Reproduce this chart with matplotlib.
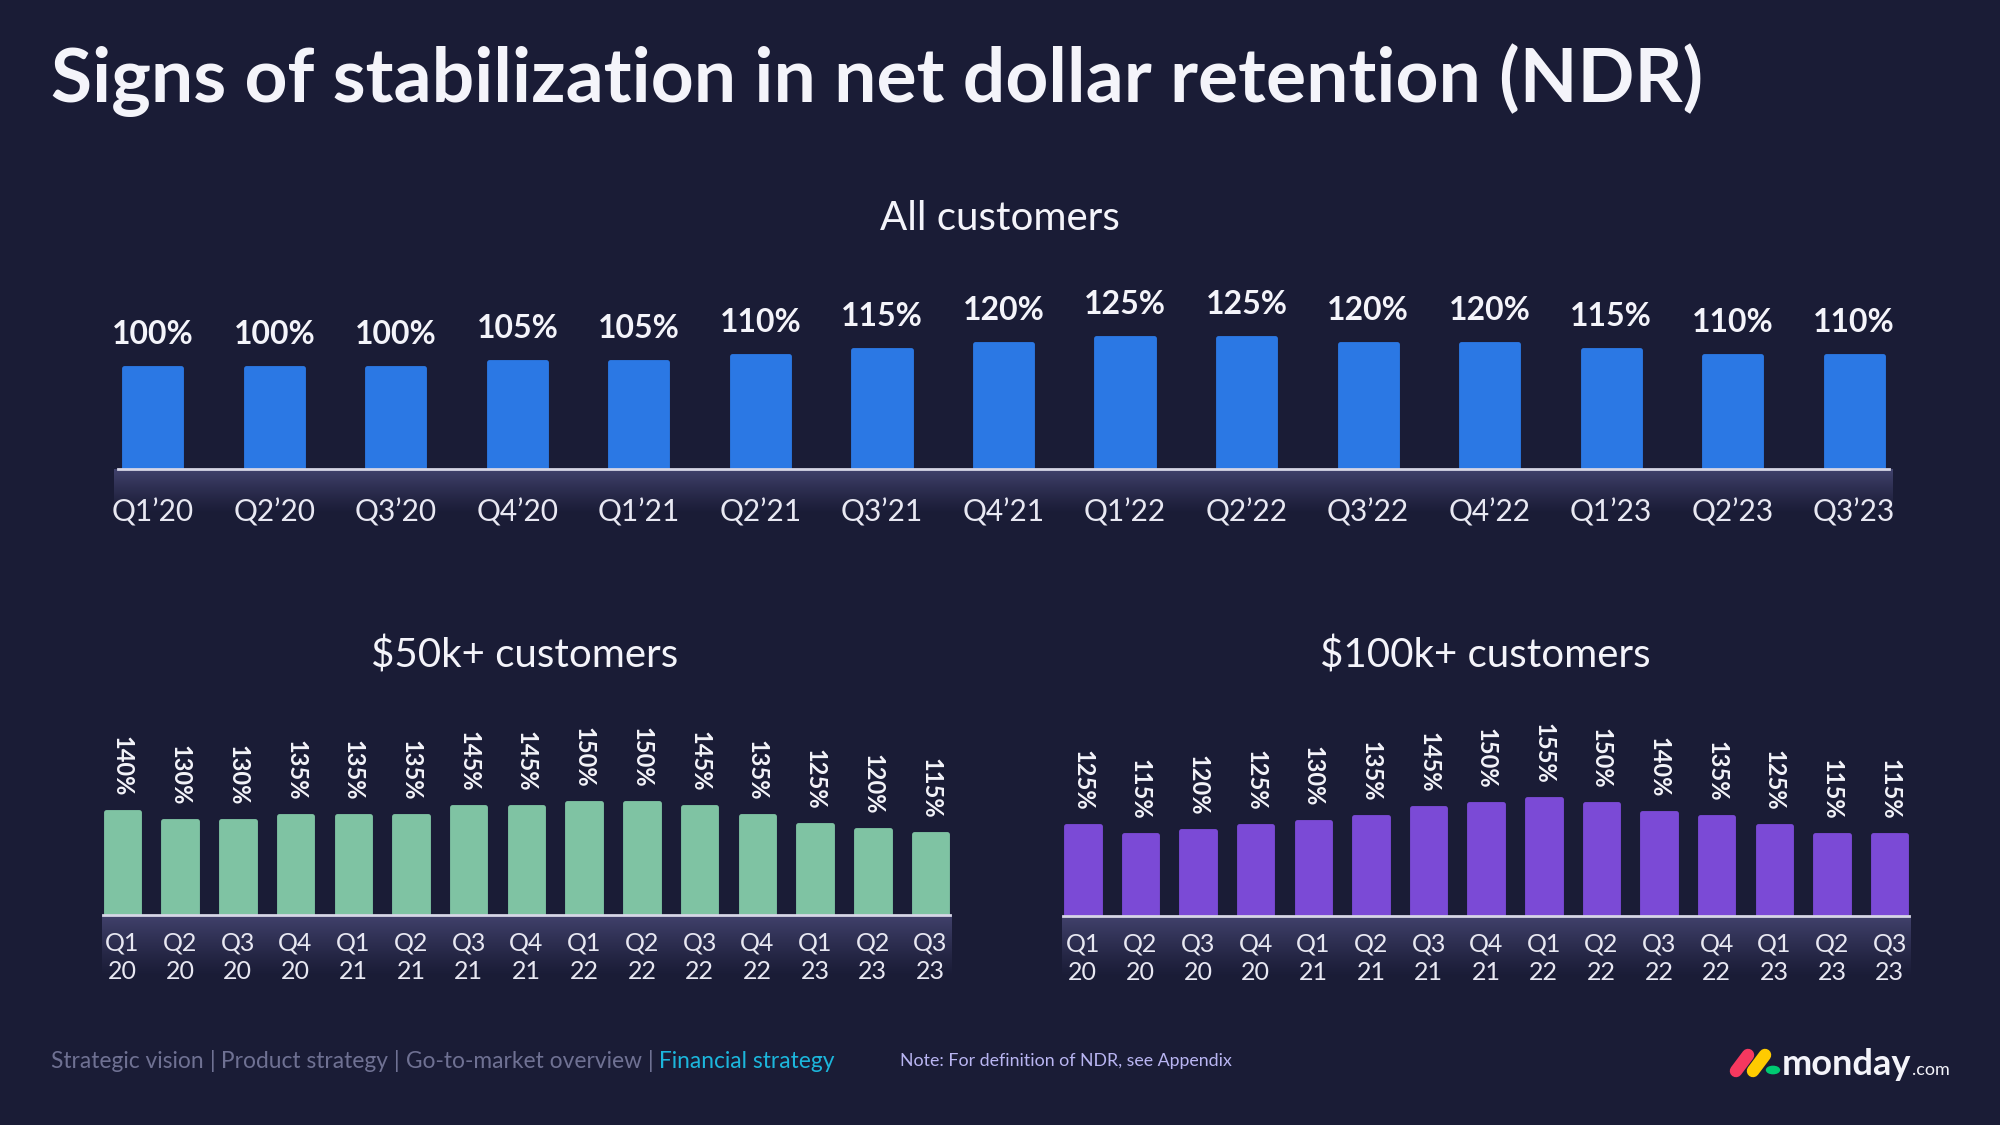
import matplotlib
matplotlib.use("Agg")
import matplotlib.pyplot as plt
import numpy as np
from matplotlib.lines import Line2D
from matplotlib.patches import Circle

plt.rcParams['font.family'] = ['Lato', 'DejaVu Sans']

# ---------------- data ----------------
quarters_all = ["Q1’20", "Q2’20", "Q3’20", "Q4’20", "Q1’21", "Q2’21", "Q3’21", "Q4’21",
                "Q1’22", "Q2’22", "Q3’22", "Q4’22", "Q1’23", "Q2’23", "Q3’23"]
ndr_all = [100, 100, 100, 105, 105, 110, 115, 120, 125, 125, 120, 120, 115, 110, 110]

quarters_split = ["Q1\n20", "Q2\n20", "Q3\n20", "Q4\n20", "Q1\n21", "Q2\n21", "Q3\n21", "Q4\n21",
                  "Q1\n22", "Q2\n22", "Q3\n22", "Q4\n22", "Q1\n23", "Q2\n23", "Q3\n23"]
ndr_50k = [140, 130, 130, 135, 135, 135, 145, 145, 150, 150, 145, 135, 125, 120, 115]
ndr_100k = [125, 115, 120, 125, 130, 135, 145, 150, 155, 150, 140, 135, 125, 115, 115]

title = "Signs of stabilization in net dollar retention (NDR)"
sub_all = "All customers"
sub_50k = r"\$50k+ customers"
sub_100k = r"\$100k+ customers"

# ---------------- style ----------------
BG = "#1a1c36"
BLUE = "#2b78e4"
GREEN = "#7fc3a3"
PURPLE = "#7b4ad6"
WHITE = "#f4f4fa"
TICK = "#e8e8f2"
BAND = (0.27, 0.27, 0.44)
W, H = 2000, 1125

fig = plt.figure(figsize=(20, 11.25), dpi=100, facecolor=BG)
renderer = fig.canvas.get_renderer()


def rect(l, r, top, bottom):
    return [l / W, 1 - bottom / H, (r - l) / W, (bottom - top) / H]


def band(l, r, top, height):
    ax = fig.add_axes(rect(l, r, top, top + height))
    grad = np.zeros((100, 2, 4))
    grad[..., 0], grad[..., 1], grad[..., 2] = BAND
    a = np.linspace(0.95, 0.0, 100) ** 1.2
    grad[..., 3] = a[:, None]
    ax.imshow(grad, aspect='auto', extent=[0, 1, 0, 1], origin='upper', zorder=0)
    ax.set_axis_off()
    ax.set_zorder(0)


def bar_chart(axrect, values, labels, color, base, scale_px, height_px, width,
              vlab_size, vlab_rot, vlab_off, tick_size, tick_pad, band_h, band_ext,
              linespacing=1.0):
    l, r, top, bottom = axrect
    band(l + band_ext, r - band_ext, bottom, band_h)
    ax = fig.add_axes(rect(l, r, bottom - height_px, bottom))
    ax.set_zorder(2)
    ax.patch.set_alpha(0)
    x = np.arange(len(values))
    ax.bar(x, np.array(values) - base, bottom=base, width=width, color=color,
           edgecolor=color, linewidth=3.5, joinstyle='round')
    ax.set_xlim(-0.5, len(values) - 0.5)
    ax.set_ylim(base, base + height_px / scale_px)
    ax.axhline(base, xmin=(0.5 - width / 2 - 0.05) / len(values),
               xmax=1 - (0.5 - width / 2 - 0.05) / len(values),
               color="#d6d6e6", linewidth=2.0, zorder=5, clip_on=False)
    for s in ax.spines.values():
        s.set_visible(False)
    ax.set_yticks([])
    ax.set_xticks(x)
    ax.set_xticklabels(labels, fontsize=tick_size, color=TICK, linespacing=linespacing,
                       fontweight='normal')
    ax.tick_params(axis='x', length=0, pad=tick_pad)
    for xi, v in zip(x, values):
        if vlab_rot:
            ax.annotate(f"{v}%", (xi, v), xytext=(0, vlab_off), textcoords='offset points',
                        rotation=270, ha='center', va='bottom', fontsize=vlab_size,
                        fontweight='bold', color=WHITE)
        else:
            ax.annotate(f"{v}%", (xi, v), xytext=(0, vlab_off), textcoords='offset points',
                        ha='center', va='baseline', fontsize=vlab_size,
                        fontweight='bold', color=WHITE)
    return ax


# top chart
bar_chart((92, 1915, 0, 469), ndr_all, quarters_all, BLUE, base=14, scale_px=1.18,
          height_px=220, width=0.47, vlab_size=23, vlab_rot=False, vlab_off=17,
          tick_size=21.5, tick_pad=21, band_h=45, band_ext=22)
# bottom-left
bar_chart((93.5, 959.4, 0, 915), ndr_50k, quarters_split, GREEN, base=25, scale_px=0.9,
          height_px=220, width=0.58, vlab_size=17, vlab_rot=True, vlab_off=11,
          tick_size=18, tick_pad=12, band_h=62, band_ext=8, linespacing=1.3)
# bottom-right
bar_chart((1054, 1918.4, 0, 916), ndr_100k, quarters_split, PURPLE, base=25, scale_px=0.9,
          height_px=220, width=0.58, vlab_size=17, vlab_rot=True, vlab_off=11,
          tick_size=18, tick_pad=12, band_h=62, band_ext=8, linespacing=1.3)

# ---------------- texts ----------------
fig.text(51 / W, 1 - 80 / H, title, fontsize=54, fontweight='bold', color=WHITE,
         va='center', ha='left')
fig.text(1000 / W, 1 - 218 / H, sub_all, fontsize=29, color=WHITE, ha='center', va='center')
fig.text(525 / W, 1 - 656 / H, sub_50k, fontsize=29, color=WHITE, ha='center', va='center')
fig.text(1485 / W, 1 - 656 / H, sub_100k, fontsize=29, color=WHITE, ha='center', va='center')

# footer
parts = [("Strategic vision ", "#6f7193"), ("|", "#6f7193"), (" Product strategy ", "#6f7193"),
         ("|", "#6f7193"), (" Go-to-market overview ", "#6f7193"), ("|", "#6f7193"),
         (" Financial strategy", "#1cb6dc")]
xpos = 51
for txt, col in parts:
    t = fig.text(xpos / W, 1 - 1061 / H, txt, fontsize=16.4, color=col, ha='left', va='center')
    bb = t.get_window_extent(renderer)
    xpos += bb.width
fig.text(900 / W, 1 - 1061 / H, "Note: For definition of NDR, see Appendix", fontsize=12.8,
         color="#b9b5f2", ha='left', va='center')

# logo
fig.add_artist(Line2D([1736 / W, 1748 / W], [1 - 1071 / H, 1 - 1055 / H], color="#f6385f",
                      linewidth=9, solid_capstyle='round'))
fig.add_artist(Line2D([1753 / W, 1765 / W], [1 - 1071 / H, 1 - 1055 / H], color="#ffcb00",
                      linewidth=9, solid_capstyle='round'))
fig.add_artist(Circle((1773 / W, 1 - 1070 / H), 6.5 / W, color="#00ca72",
                      transform=fig.transFigure))
tm = fig.text(1782 / W, 1 - 1075 / H, "monday", fontsize=26, fontweight='bold', color=WHITE,
              ha='left', va='baseline')
bb = tm.get_window_extent(renderer)
fig.text((bb.x1 + 1) / W, 1 - 1075 / H, ".com", fontsize=13, color=WHITE, ha='left',
         va='baseline')

fig.savefig("out.png", dpi=100, facecolor=BG)
